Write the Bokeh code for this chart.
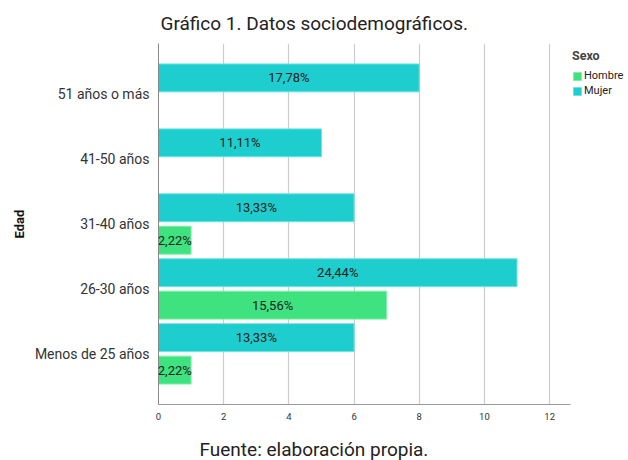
from bokeh.plotting import figure
from bokeh.models import (ColumnDataSource, FactorRange, Range1d, Legend, LegendItem,
                          Title, LabelSet, FixedTicker)
from bokeh.core.properties import value
from bokeh.transform import dodge
from bokeh.embed import file_html
from bokeh.resources import INLINE

categories = ["Menos de 25 años", "26-30 años", "31-40 años", "41-50 años", "51 años o más"]
hombre = [1, 7, 1, 0, 0]
mujer = [6, 11, 6, 5, 8]
hombre_labels = ["2,22%", "15,56%", "2,22%", "", ""]
mujer_labels = ["13,33%", "24,44%", "13,33%", "11,11%", "17,78%"]
x_ticks = [0, 2, 4, 6, 8, 10, 12]
x_axis_end = 12.64

FONT = "Roboto"
C_H = "#3ee27e"
C_M = "#1ecdcd"

src_h = ColumnDataSource(dict(cat=[c for c, v in zip(categories, hombre) if v > 0],
                              val=[v for v in hombre if v > 0],
                              mid=[v / 2 for v in hombre if v > 0],
                              lab=[l for l, v in zip(hombre_labels, hombre) if v > 0]))
src_m = ColumnDataSource(dict(cat=categories, val=mujer, mid=[v / 2 for v in mujer], lab=mujer_labels))

p = figure(width=628, height=460, output_backend="svg", toolbar_location=None,
           y_range=FactorRange(*categories, range_padding=0.28, range_padding_units="absolute"),
           x_range=Range1d(0, x_axis_end * 470 / 412), min_border_left=158, min_border_top=43,
           min_border_right=0, min_border_bottom=52)

p.title.text = "Gráfico 1. Datos sociodemográficos."
p.title.text_font = FONT
p.title.text_font_size = "19px"
p.title.text_font_style = "normal"
p.title.text_color = "#222222"
p.title.align = "left"
p.title.offset = 2
p.title.vertical_align = "top"
p.title.standoff = 14

rh = p.hbar(y=dodge("cat", -0.25, range=p.y_range), right="val", height=0.43, source=src_h,
            fill_color=C_H, line_color="#7ff0aa", line_width=1)
rm = p.hbar(y=dodge("cat", 0.25, range=p.y_range), right="val", height=0.43, source=src_m,
            fill_color=C_M, line_color="#6fe3e3", line_width=1)

for src, off in ((src_h, -0.25), (src_m, 0.25)):
    ls = LabelSet(x="mid", y=dodge("cat", off, range=p.y_range), text="lab", source=src,
                  text_align="center", text_baseline="middle", text_font_size="13px",
                  text_color="#222222", text_font=value(FONT))
    p.add_layout(ls)

p.xaxis.ticker = FixedTicker(ticks=x_ticks)
p.xaxis.bounds = (0, x_axis_end)
p.xaxis.major_label_text_font_size = "9.5px"
p.xaxis.major_label_text_font = FONT
p.xaxis.major_label_text_color = "#333333"
p.xaxis.major_tick_line_color = None
p.xaxis.minor_tick_line_color = None
p.xaxis.axis_line_color = "#999999"
p.xaxis.major_label_standoff = 2
p.xaxis.axis_label = " "
p.xaxis.axis_label_text_font_size = "1px"
p.xaxis.axis_label_standoff = 9

p.yaxis.axis_label = "Edad"
p.yaxis.axis_label_text_font = FONT
p.yaxis.axis_label_text_font_style = "bold"
p.yaxis.axis_label_text_font_size = "13px"
p.yaxis.axis_label_text_color = "#111111"
p.yaxis.axis_label_standoff = 5
p.yaxis.major_label_text_font = FONT
p.yaxis.major_label_text_font_size = "14px"
p.yaxis.major_label_text_color = "#333333"
p.yaxis.major_tick_line_color = None
p.yaxis.axis_line_color = "#888888"
p.yaxis.major_label_standoff = 3

p.ygrid.grid_line_color = None
p.xgrid.grid_line_color = "#cccccc"
p.xgrid.grid_line_width = 1.2
p.outline_line_color = None

legend = Legend(items=[LegendItem(label="Hombre", renderers=[rh]),
                       LegendItem(label="Mujer", renderers=[rm])],
                location=(414, 307), title="Sexo")
legend.title_text_font = FONT
legend.title_text_font_style = "bold"
legend.title_text_font_size = "12.5px"
legend.title_standoff = 6
legend.label_text_font = FONT
legend.label_text_font_size = "11px"
legend.label_text_color = "#222222"
legend.glyph_width = 10
legend.glyph_height = 10
legend.label_height = 10
legend.label_standoff = 2
legend.spacing = 2
legend.padding = 2
legend.margin = 0
legend.border_line_color = None
legend.background_fill_alpha = 0
p.add_layout(legend)

foot = Title(text="Fuente: elaboración propia.", align="left", offset=41, standoff=0,
             text_font_size="19px", text_font_style="normal", text_color="#222222")
foot.text_font = FONT
p.add_layout(foot, "below")

open("out.html", "w").write(file_html(p, INLINE))
